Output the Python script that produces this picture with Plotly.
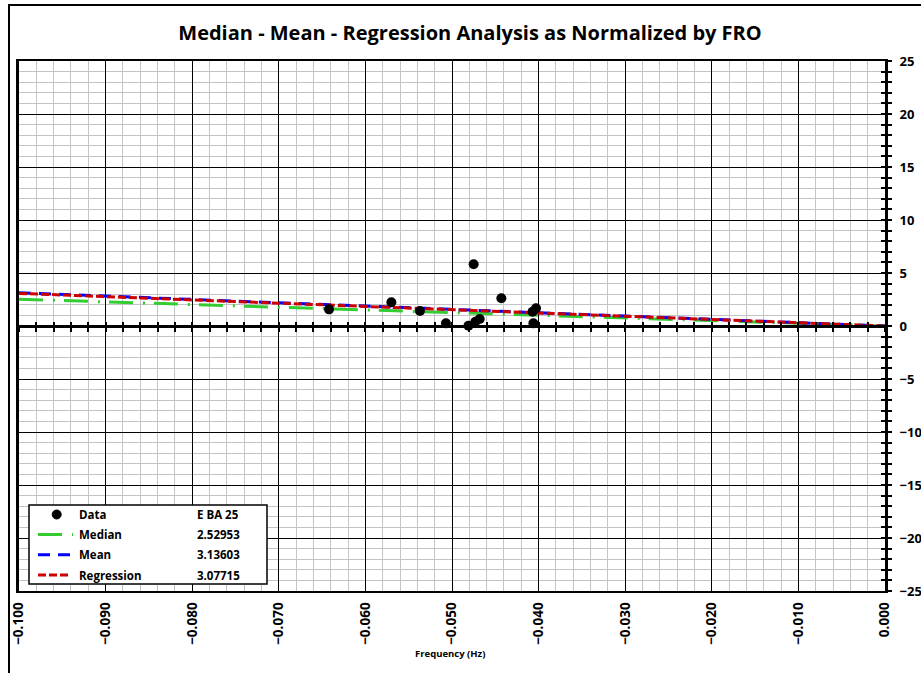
import plotly.graph_objects as go

# ---- data ----
freq = [-0.0642, -0.0570, -0.0537, -0.0507, -0.0475, -0.0481, -0.0473,
        -0.0468, -0.0443, -0.0406, -0.0407, -0.0403]
norm = [1.57, 2.24, 1.41, 0.25, 5.82, 0.03, 0.40, 0.66, 2.61, 0.25, 1.35, 1.67]
line_x = [-0.100, 0.000]
series_names = ["Median", "Mean", "Regression"]
series_values = [2.52953, 3.13603, 3.07715]
data_label = "E BA 25"
x_tick_vals = [-0.100, -0.090, -0.080, -0.070, -0.060, -0.050, -0.040,
               -0.030, -0.020, -0.010, 0.000]
y_tick_vals = [-25, -20, -15, -10, -5, 0, 5, 10, 15, 20, 25]

FONT = "Open Sans"
W, H = 921, 673
L, R, T, B = 19, 885, 61, 591


def px(xp):
    return (xp - L) / (R - L)


def py(yp):
    return (B - yp) / (B - T)


styles = {
    "Median": dict(color="#33CC33", dash="24px,10px,2px,9px"),
    "Mean": dict(color="#0000FF", dash="12px,8px"),
    "Regression": dict(color="#CC0000", dash="8px,3px"),
}

fig = go.Figure()

for name, val in zip(series_names, series_values):
    ys = [-val * x / 0.1 for x in line_x]
    fig.add_trace(go.Scatter(x=line_x, y=ys, mode="lines", name=name,
                             line=dict(color=styles[name]["color"], width=3,
                                       dash=styles[name]["dash"]),
                             showlegend=False))

fig.add_trace(go.Scatter(x=freq, y=norm, mode="markers", name="Data",
                         marker=dict(color="black", size=10), showlegend=False))

# dummy traces to instantiate overlay axes
fig.add_trace(go.Scatter(x=[], y=[], xaxis="x2", yaxis="y", showlegend=False))
fig.add_trace(go.Scatter(x=[], y=[], xaxis="x3", yaxis="y", showlegend=False))
fig.add_trace(go.Scatter(x=[], y=[], xaxis="x", yaxis="y2", showlegend=False))

xtickfont = dict(family=FONT, size=13.5, color="black", weight="bold")
ytickfont = dict(family=FONT, size=13, color="black", weight="bold")

fig.update_layout(
    width=W, height=H,
    margin=dict(l=L, r=W - R, t=T, b=H - B, autoexpand=False),
    paper_bgcolor="white", plot_bgcolor="white",
    font=dict(family=FONT, color="black"),
    title=dict(text="<b>Median - Mean - Regression Analysis as Normalized by FRO</b>",
               x=470 / W, xanchor="center", y=1 - 33 / H, yanchor="middle",
               yref="container", xref="container",
               font=dict(family=FONT, size=20, color="black")),
    showlegend=False,
    xaxis=dict(range=[-0.1, 0.0], tickvals=x_tick_vals, tickformat=".3f",
               tickangle=-90, tickfont=xtickfont, automargin=False,
               showgrid=True, gridcolor="black", gridwidth=1,
               minor=dict(dtick=0.002, tick0=0, showgrid=True,
                          gridcolor="#c4c4c4", gridwidth=1),
               showline=True, linecolor="black", linewidth=2, mirror=True,
               ticks="", zeroline=False, ticklabelstandoff=4),
    xaxis2=dict(range=[-0.1, 0.0], overlaying="x", anchor="free", position=0.5,
                showline=True, linecolor="black", linewidth=2.5, automargin=False,
                ticks="outside", ticklen=4, tickwidth=1.5, tickcolor="black",
                dtick=0.002, tick0=0, showticklabels=False, showgrid=False,
                zeroline=False),
    xaxis3=dict(range=[-0.1, 0.0], overlaying="x", anchor="free", position=0.5,
                showline=False, automargin=False,
                ticks="inside", ticklen=4, tickwidth=1.5, tickcolor="black",
                dtick=0.002, tick0=0, showticklabels=False, showgrid=False,
                zeroline=False),
    yaxis=dict(range=[-25, 25], side="right", tickvals=y_tick_vals,
               tickfont=ytickfont, automargin=False,
               showgrid=True, gridcolor="black", gridwidth=1,
               minor=dict(dtick=1, tick0=0, showgrid=True, gridcolor="#c4c4c4",
                          gridwidth=1, ticks="outside", ticklen=4,
                          tickwidth=1.5, tickcolor="black"),
               ticks="outside", ticklen=4, tickwidth=1.5, tickcolor="black",
               showline=True, linecolor="black", linewidth=3, mirror=True,
               zeroline=False, ticklabelstandoff=5),
    yaxis2=dict(range=[-25, 25], overlaying="y", side="right", automargin=False,
                ticks="inside", ticklen=4, tickwidth=1.5, tickcolor="black",
                dtick=1, tick0=0, showticklabels=False, showgrid=False,
                zeroline=False, showline=False),
)

shapes = []
# outer chart border
shapes.append(dict(type="rect", xref="paper", yref="paper",
                   x0=px(9), x1=px(940), y0=py(700), y1=py(5),
                   line=dict(color="black", width=2), fillcolor="rgba(0,0,0,0)"))
# legend box
shapes.append(dict(type="rect", xref="paper", yref="paper",
                   x0=px(29), x1=px(267), y0=py(584), y1=py(505),
                   line=dict(color="black", width=1.5), fillcolor="white"))
row_y = [514.5, 534.5, 554.7, 575.0]
# data marker sample
shapes.append(dict(type="circle", xref="paper", yref="paper",
                   x0=px(52.2), x1=px(61.2), y0=py(row_y[0] + 4.5), y1=py(row_y[0] - 4.5),
                   line=dict(color="black", width=1), fillcolor="black"))
sample_len = {"Median": 73, "Mean": 70, "Regression": 70}
for i, name in enumerate(series_names):
    shapes.append(dict(type="line", xref="paper", yref="paper",
                       x0=px(38), x1=px(sample_len[name]),
                       y0=py(row_y[i + 1]), y1=py(row_y[i + 1]),
                       line=dict(color=styles[name]["color"], width=3,
                                 dash=styles[name]["dash"])))
fig.update_layout(shapes=shapes)

ann = []
labels = ["Data"] + series_names
values = [data_label] + ["%.5f" % v for v in series_values]
for i in range(4):
    ann.append(dict(xref="paper", yref="paper", x=px(77), y=py(row_y[i]),
                    xanchor="left", yanchor="middle", showarrow=False,
                    text="<b>%s</b>" % labels[i],
                    font=dict(family=FONT, size=11.5, color="black")))
    ann.append(dict(xref="paper", yref="paper", x=px(195), y=py(row_y[i]),
                    xanchor="left", yanchor="middle", showarrow=False,
                    text="<b>%s</b>" % values[i],
                    font=dict(family=FONT, size=11.5, color="black")))
ann.append(dict(xref="paper", yref="paper", x=px(450), y=py(653),
                xanchor="center", yanchor="middle", showarrow=False,
                text="<b>Frequency (Hz)</b>",
                font=dict(family=FONT, size=9.5, color="black")))
fig.update_layout(annotations=ann)

fig.write_html("out.html", config={"displayModeBar": False},
               post_script="document.body.style.margin='0';document.body.style.overflow='hidden';")
